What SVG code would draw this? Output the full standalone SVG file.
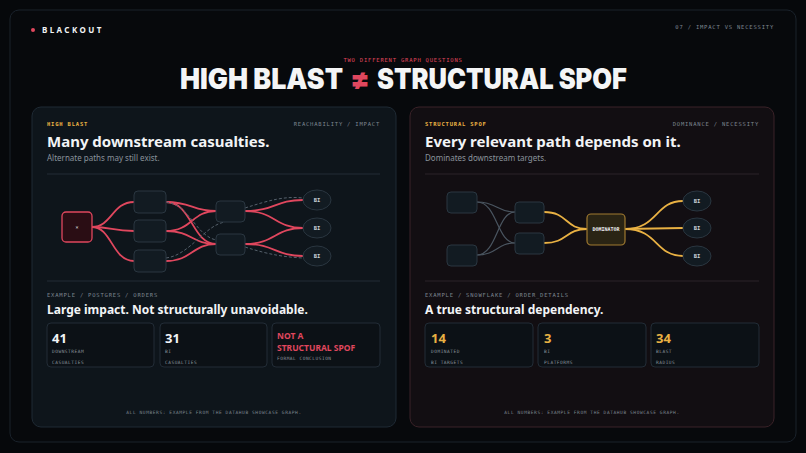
<svg xmlns="http://www.w3.org/2000/svg" width="806" height="453" viewBox="0 0 806 453">
<style>
.mono{font-family:"DejaVu Sans Mono","Liberation Mono",monospace}
.sans{font-family:"Noto Sans","Open Sans","Liberation Sans",sans-serif}
.tag{font-size:5.5px;letter-spacing:0.8px}
.h{font-size:15px;font-weight:700;fill:#f2f4f6}
.sub{font-size:8px;fill:#8a939c}
.box{fill:#121b22;stroke:#2a3640;stroke-width:1}
.bi{fill:#121b22;stroke:#2a3640;stroke-width:1}
.bil{font-size:5.5px;fill:#c9d1d8;text-anchor:middle;font-weight:700}
.red{fill:none;stroke:#e0475e;stroke-width:1.8}
.gold{fill:none;stroke:#e9b143;stroke-width:1.8}
.grey{fill:none;stroke:#4a5560;stroke-width:1.2}
.dash{fill:none;stroke:#55606b;stroke-width:1;stroke-dasharray:3 2}
.stat{fill:#0c1116;stroke:#222c36}
.num{font-size:13px;font-weight:700}
.lab{font-size:4.5px;fill:#8a939c;letter-spacing:0.5px}
.title{font-family:Inter,"Noto Sans",sans-serif;font-size:28px;font-weight:900;fill:#f4f5f6}
</style>
<rect width="806" height="453" fill="#06080b"/>
<rect x="10" y="10" width="786" height="432" rx="9" fill="#07090c" stroke="#1a222b"/>
<g id="header">
<circle cx="33" cy="30" r="2" fill="#e0475e"/>
<text x="42" y="33" class="sans" font-size="8" font-weight="700" fill="#f2f4f6" letter-spacing="2.4">BLACKOUT</text>
<text x="774" y="29" class="mono tag" fill="#7d8690" text-anchor="end">07 / IMPACT VS NECESSITY</text>
<text x="403" y="62" class="mono tag" fill="#e0475e" text-anchor="middle">TWO DIFFERENT GRAPH QUESTIONS</text>
<text x="180" y="89" class="title" textLength="163" lengthAdjust="spacingAndGlyphs">HIGH BLAST</text>
<text x="360" y="89" class="title" fill="#e0475e" style="fill:#e0475e" text-anchor="middle">≠</text>
<text x="377" y="89" class="title" textLength="250" lengthAdjust="spacingAndGlyphs">STRUCTURAL SPOF</text>
</g>
<g id="card-left">
<rect x="32" y="107" width="364" height="320" rx="9" fill="#0e151b" stroke="#1f2a34"/>
<text x="47" y="126" class="mono tag" fill="#e9b143" font-weight="700">HIGH BLAST</text>
<text x="380" y="126" class="mono tag" fill="#7d8690" text-anchor="end">REACHABILITY / IMPACT</text>
<text x="47" y="147" class="sans h">Many downstream casualties.</text>
<text x="47" y="161" class="sans sub">Alternate paths may still exist.</text>
<line x1="47" y1="174" x2="380" y2="174" stroke="#222c36"/>
<line x1="47" y1="281" x2="380" y2="281" stroke="#222c36"/>
</g>
<g id="card-right">
<rect x="410" y="107" width="364" height="320" rx="9" fill="#120e12" stroke="#3a2228"/>
<text x="425" y="126" class="mono tag" fill="#e9b143" font-weight="700">STRUCTURAL SPOF</text>
<text x="759" y="126" class="mono tag" fill="#7d8690" text-anchor="end">DOMINANCE / NECESSITY</text>
<text x="425" y="147" class="sans h">Every relevant path depends on it.</text>
<text x="425" y="161" class="sans sub">Dominates downstream targets.</text>
<line x1="425" y1="174" x2="759" y2="174" stroke="#2a2228"/>
<line x1="425" y1="281" x2="759" y2="281" stroke="#2a2228"/>
</g>
<g id="connectors">
<path class="red" d="M92 227 C112 227,112 202,134 202"/>
<path class="red" d="M92 227 C112 227,112 231,134 231"/>
<path class="red" d="M92 227 C112 227,112 261,134 261"/>
<path class="red" d="M166 202 C192 202,192 211,216 211"/>
<path class="red" d="M166 202 C192 202,192 244,216 244"/>
<path class="red" d="M166 231 C192 231,192 211,216 211"/>
<path class="red" d="M166 231 C192 231,192 244,216 244"/>
<path class="red" d="M166 261 C192 261,192 244,216 244"/>
<path class="dash" d="M166 202 C190 205,195 235,216 240"/>
<path class="dash" d="M166 258 C190 255,205 225,225 222"/>
<path class="red" d="M245 211 C275 211,275 200,303 200"/>
<path class="red" d="M245 211 C275 211,275 228,303 228"/>
<path class="red" d="M245 244 C275 244,275 228,303 228"/>
<path class="red" d="M245 244 C275 244,275 256,303 256"/>
<path class="dash" d="M245 208 C270 200,285 196,303 198"/>
<path class="dash" d="M245 247 C270 255,285 257,303 258"/>
<path class="grey" d="M477 202 C497 202,497 212,515 212"/>
<path class="grey" d="M477 202 C497 202,497 243,515 243"/>
<path class="grey" d="M477 255 C497 255,497 212,515 212"/>
<path class="grey" d="M477 255 C497 255,497 243,515 243"/>
<path class="gold" d="M544 212 C568 212,565 229,587 229"/>
<path class="gold" d="M544 243 C568 243,565 229,587 229"/>
<path class="gold" d="M625 229 C658 229,655 201,683 201"/>
<path class="gold" d="M625 229 L683 228"/>
<path class="gold" d="M625 229 C658 229,655 256,683 256"/>
</g>
<g id="graph-left">
<rect x="62" y="212" width="30" height="30" rx="4" fill="#2a0d14" stroke="#e0475e" stroke-width="1.3"/>
<text x="77" y="229" class="mono" font-size="5" fill="#f2f4f6" text-anchor="middle">×</text>
<rect class="box" x="134" y="191" width="32" height="22" rx="4"/>
<rect class="box" x="134" y="220" width="32" height="22" rx="4"/>
<rect class="box" x="134" y="250" width="32" height="22" rx="4"/>
<rect class="box" x="216" y="201" width="29" height="21" rx="4"/>
<rect class="box" x="216" y="234" width="29" height="21" rx="4"/>
<ellipse class="bi" cx="317" cy="200" rx="14" ry="10"/>
<ellipse class="bi" cx="317" cy="228" rx="14" ry="10"/>
<ellipse class="bi" cx="317" cy="256" rx="14" ry="10"/>
<text x="317" y="202" class="mono bil">BI</text>
<text x="317" y="230" class="mono bil">BI</text>
<text x="317" y="258" class="mono bil">BI</text>
</g>
<g id="graph-right">
<rect class="box" x="447" y="192" width="30" height="21" rx="4"/>
<rect class="box" x="447" y="245" width="30" height="21" rx="4"/>
<rect class="box" x="515" y="202" width="29" height="21" rx="4"/>
<rect class="box" x="515" y="233" width="29" height="21" rx="4"/>
<rect x="587" y="214" width="38" height="31" rx="4" fill="#2a2414" stroke="#a07a30" stroke-width="1.2"/>
<text x="606" y="231" class="mono" font-size="5" font-weight="700" fill="#f2f4f6" text-anchor="middle">DOMINATOR</text>
<ellipse class="bi" cx="697" cy="201" rx="14" ry="10"/>
<ellipse class="bi" cx="697" cy="228" rx="14" ry="10"/>
<ellipse class="bi" cx="697" cy="256" rx="14" ry="10"/>
<text x="697" y="203" class="mono bil">BI</text>
<text x="697" y="230" class="mono bil">BI</text>
<text x="697" y="258" class="mono bil">BI</text>
</g>
<g id="stats-left">
<text x="47" y="297" class="mono tag" fill="#7d8690">EXAMPLE / POSTGRES / ORDERS</text>
<text x="47" y="314" class="sans" font-size="12" font-weight="700" fill="#f2f4f6">Large impact. Not structurally unavoidable.</text>
<rect class="stat" x="47" y="323" width="107" height="44" rx="4"/>
<rect class="stat" x="160" y="323" width="107" height="44" rx="4"/>
<rect class="stat" x="272" y="323" width="108" height="44" rx="4"/>
<text x="52" y="343" class="sans num" fill="#f2f4f6">41</text>
<text x="52" y="353" class="mono lab">DOWNSTREAM</text>
<text x="52" y="364" class="mono lab">CASUALTIES</text>
<text x="165" y="343" class="sans num" fill="#f2f4f6">31</text>
<text x="165" y="353" class="mono lab">BI</text>
<text x="165" y="364" class="mono lab">CASUALTIES</text>
<text x="277" y="339" class="sans" font-size="8.5" font-weight="700" fill="#e0475e">NOT A</text>
<text x="277" y="350.5" class="sans" font-size="8.5" font-weight="700" fill="#e0475e">STRUCTURAL SPOF</text>
<text x="277" y="360" class="mono lab">FORMAL CONCLUSION</text>
<text x="214" y="414" class="mono" font-size="4.5" fill="#7d8690" text-anchor="middle" letter-spacing="0.6">ALL NUMBERS: EXAMPLE FROM THE DATAHUB SHOWCASE GRAPH.</text>
</g>
<g id="stats-right">
<text x="425" y="297" class="mono tag" fill="#7d8690">EXAMPLE / SNOWFLAKE / ORDER_DETAILS</text>
<text x="425" y="314" class="sans" font-size="12" font-weight="700" fill="#f2f4f6">A true structural dependency.</text>
<rect class="stat" x="425" y="323" width="108" height="44" rx="4"/>
<rect class="stat" x="538" y="323" width="108" height="44" rx="4"/>
<rect class="stat" x="651" y="323" width="108" height="44" rx="4"/>
<text x="431" y="343" class="sans num" fill="#e9b143">14</text>
<text x="431" y="353" class="mono lab">DOMINATED</text>
<text x="431" y="364" class="mono lab">BI TARGETS</text>
<text x="544" y="343" class="sans num" fill="#e9b143">3</text>
<text x="544" y="353" class="mono lab">BI</text>
<text x="544" y="364" class="mono lab">PLATFORMS</text>
<text x="656" y="343" class="sans num" fill="#e9b143">34</text>
<text x="656" y="353" class="mono lab">BLAST</text>
<text x="656" y="364" class="mono lab">RADIUS</text>
<text x="592" y="414" class="mono" font-size="4.5" fill="#7d8690" text-anchor="middle" letter-spacing="0.6">ALL NUMBERS: EXAMPLE FROM THE DATAHUB SHOWCASE GRAPH.</text>
</g>
</svg>
